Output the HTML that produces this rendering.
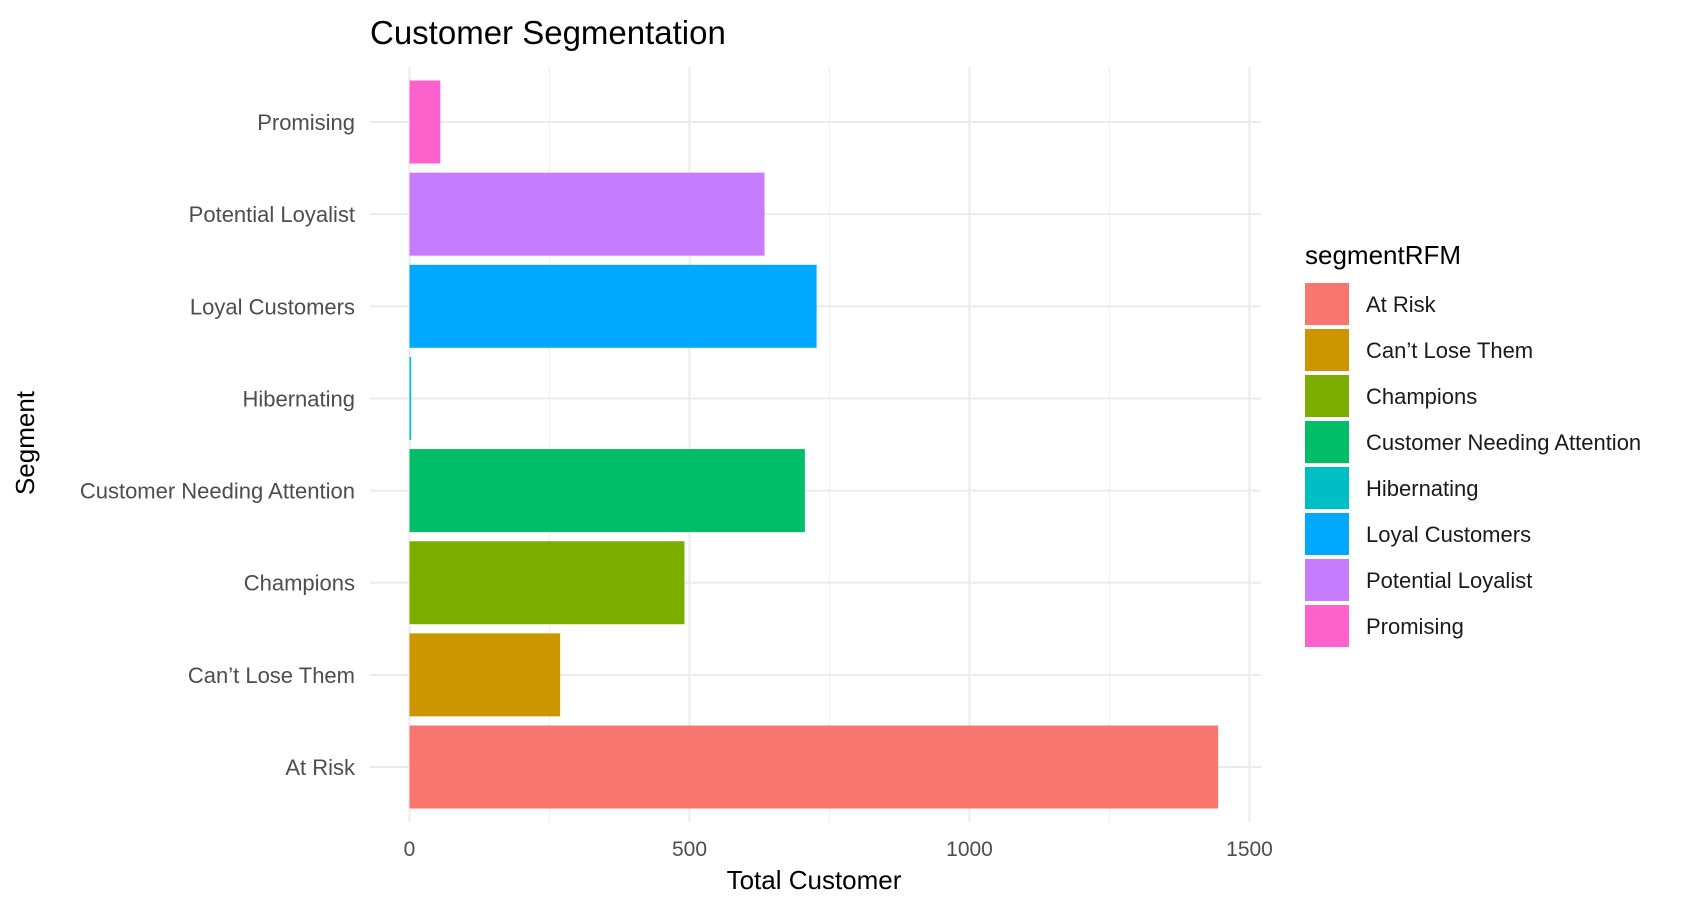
<!DOCTYPE html>
<html><head><meta charset="utf-8"><style>
body{margin:0;background:#fff;font-family:"Liberation Sans",Arial,sans-serif;}
svg text{font-family:"Liberation Sans",Arial,sans-serif;}
</style></head><body>
<svg id="chart" width="1696" height="900" xmlns="http://www.w3.org/2000/svg">
<text x="370" y="44" font-size="33" fill="#000">Customer Segmentation</text>
<g id="grid"></g><g id="bars"></g><g id="axes"></g><g id="legend"></g>
<text x="814" y="889" font-size="26" fill="#000" text-anchor="middle">Total Customer</text>
<text transform="translate(34,443) rotate(-90)" font-size="26" fill="#000" text-anchor="middle">Segment</text>
</svg>
<script>
const categories=["At Risk","Can't Lose Them","Champions","Customer Needing Attention","Hibernating","Loyal Customers","Potential Loyalist","Promising"];
const labels=["At Risk","Can’t Lose Them","Champions","Customer Needing Attention","Hibernating","Loyal Customers","Potential Loyalist","Promising"];
const values=[1444,269,491,706,3,727,634,55];
const colors=["#F8766D","#CD9600","#7CAE00","#00BE67","#00BFC4","#00A9FF","#C77CFF","#FF61CC"];
const xTicks=[0,500,1000,1500];
const xMinor=[250,750,1250];
const NS="http://www.w3.org/2000/svg";
const px0=370,px1=1261,py0=67,py1=822;
const x=v=>409.5+v*0.56;
const y=i=>767-i*92.14;
function mk(tag,attrs,parent,txt){const e=document.createElementNS(NS,tag);for(const k in attrs)e.setAttribute(k,attrs[k]);if(txt!==undefined)e.textContent=txt;parent.appendChild(e);return e;}
const grid=document.getElementById('grid'),bars=document.getElementById('bars'),axes=document.getElementById('axes'),legend=document.getElementById('legend');
xMinor.forEach(v=>{const l=mk('line',{x1:x(v),x2:x(v),y1:py0,y2:py1,stroke:'#f0f0f0','stroke-width':1.2},grid);

});
xTicks.forEach(v=>{const l=mk('line',{x1:x(v),x2:x(v),y1:py0,y2:py1,stroke:'#ebebeb','stroke-width':2},grid);


const t=mk('text',{x:x(v),y:856,'font-size':21,fill:'#4d4d4d','text-anchor':'middle'},axes,String(v));

});
categories.forEach((c,i)=>{const l=mk('line',{x1:px0,x2:px1,y1:y(i),y2:y(i),stroke:'#ebebeb','stroke-width':2},grid);


const b=mk('rect',{x:x(0),y:y(i)-41.5,width:Math.max(x(values[i])-x(0),1.5),height:83,fill:colors[i]},bars);


const t=mk('text',{x:355,y:y(i)+8,'font-size':22,fill:'#4d4d4d','text-anchor':'end'},axes,labels[i]);


const r=mk('rect',{x:1305,y:283+i*46,width:44,height:42,fill:colors[i]},legend);


const lt=mk('text',{x:1366,y:283+i*46+29,'font-size':22,fill:'#1a1a1a'},legend,labels[i]);

});
const lt=mk('text',{x:1305,y:264,'font-size':26,fill:'#000'},legend,'segmentRFM');


</script>
</body></html>
